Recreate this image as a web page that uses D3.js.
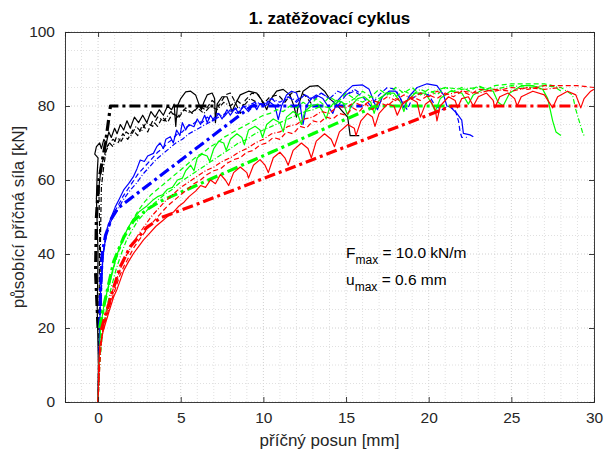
<!DOCTYPE html>
<html><head><meta charset="utf-8">
<script src="https://cdn.jsdelivr.net/npm/d3@7"></script>
<style>html,body{margin:0;padding:0;background:#fff;}svg{display:block;font-family:"Liberation Sans",Arial,Helvetica,sans-serif;}</style>
</head><body>
<svg id="c" width="604" height="453"></svg>
<script>
// ---------- data (x = příčný posun [mm], y = síla [kN]) ----------
const xTicks = [0,5,10,15,20,25,30];
const yTicks = [0,20,40,60,80,100];
const titleText = "1. zatěžovací cyklus";
const xLabel = "příčný posun [mm]";
const yLabel = "působící příčná síla [kN]";

const blackSolid = [[0,0],[0.02,10],[-0.05,25],[0,40],[-0.1,55],[-0.05,62],[0,66],[-0.2,67],[-0.1,69],[0.1,70],[0.2,68.5],[0.35,71],[0.5,70],[0.65,73],[0.8,71.5],[1.0,74],[1.15,72.5],[1.35,75],[1.55,73.5],[1.75,76],[1.95,74],[2.2,77],[2.45,75.5],[2.7,77.5],[2.95,75.5],[3.2,78.5],[3.45,77],[3.7,79],[3.95,77.5],[4.2,80],[4.45,79],[4.6,80.5],[4.7,74.5],[4.8,80],[5.0,82],[5.3,83.8],[5.6,84],[5.9,83],[6.1,80.5],[6.25,79],[6.4,81],[6.6,83],[6.9,83.5],[7.05,82],[7.1,75.5],[7.2,80.5],[7.5,82.5],[7.8,82.5],[8.0,80],[8.1,78.5],[8.3,80.5],[8.6,83],[9.1,84],[9.6,83.5],[10.0,81],[10.2,79],[10.4,81.5],[10.8,84],[11.2,84.5],[11.6,83],[11.85,80],[12.0,77],[12.1,80],[12.4,84],[12.8,85.3],[13.3,85.5],[13.7,84],[14.0,82],[14.4,80.5],[14.8,78.5],[15.1,77],[15.25,72],[15.8,72]];
const blackDash = [[0,0],[0.05,20],[0.1,45],[0.05,58],[0.2,64],[0.4,67],[0.6,69.5],[0.9,71],[1.2,70],[1.5,72.5],[1.8,71],[2.1,73.5],[2.4,72],[2.7,75],[3.0,73],[3.3,76],[3.6,74.5],[3.9,77],[4.2,75.5],[4.5,78],[4.9,77],[5.3,79.5],[5.7,78],[6.1,80],[6.5,79],[6.9,81.5],[7.3,80],[7.7,83],[8.0,83.5],[8.3,81],[8.6,78],[8.9,81.5],[9.3,83.5],[9.7,83],[10.0,80.5],[10.4,82.5],[10.9,83],[11.3,81],[11.7,83.5],[12.2,84],[12.6,82.5],[13.0,80]];
const blackDashDot = [[0,0],[0.1,25],[0.15,45],[0.2,58],[0.35,64],[0.5,68],[0.7,70],[0.9,69],[1.1,71.5],[1.4,70.5],[1.7,73],[2.0,72],[2.3,74.5],[2.6,73],[2.9,75.5],[3.3,74.5],[3.6,77],[4.0,76],[4.4,78.5],[4.8,77],[5.2,79],[5.6,78],[6.0,79.5],[6.4,78],[6.8,80],[7.2,79],[7.6,81],[8.0,80],[8.4,81.5],[8.8,80],[9.2,82],[9.6,81]];
const blackModel = [[0,20],[-0.15,35],[-0.1,50],[0.05,60],[0.25,65],[0.45,70],[0.75,80],[7.3,80]];

const blueSolid = [[0,0],[0.05,10],[0.1,20],[0.15,30],[0.3,40],[0.45,44],[0.55,47],[0.8,50],[1.05,52.8],[1.3,55],[1.55,57.3],[1.85,59],[2.15,61],[2.35,63],[2.55,65.4],[2.8,65],[3.0,66.5],[3.35,67.2],[3.55,69],[3.75,70],[3.95,68.5],[4.1,71],[4.37,71.7],[4.55,70],[4.75,73.5],[4.95,72],[5.1,75.5],[5.3,73.5],[5.5,75],[5.8,74.4],[6.0,76.5],[6.2,75],[6.45,77.5],[6.6,75.5],[6.8,77.5],[7.0,76],[7.3,78],[7.5,76.5],[7.8,79],[8.0,77.5],[8.3,79.5],[8.5,78],[8.8,80],[9.1,78.5],[9.4,80.5],[9.6,79],[9.8,80.7],[10.1,80],[10.4,81],[10.7,80],[10.9,76.3],[11.1,80],[11.4,83],[11.7,84],[12.0,83.5],[12.2,81],[12.4,75],[12.6,80],[12.9,82],[13.2,83],[13.6,82],[13.9,80],[14.2,78],[14.5,81.5],[14.9,83.5],[15.4,85.5],[16.0,85.7],[16.4,84.5],[16.7,81],[16.9,79],[17.2,82.5],[17.6,84],[18.0,84],[18.3,82],[18.5,79.5],[18.8,82.5],[19.3,85],[19.9,86],[20.5,85.5],[20.9,83],[21.1,80],[21.3,79.8],[21.7,78],[22.0,76.2],[22.1,72.6],[22.5,72.2],[22.7,71.7]];
const blueDash = [[0,0],[0.1,15],[0.2,30],[0.3,40],[0.5,45],[0.7,48],[0.95,51],[1.2,53],[1.5,55.5],[1.8,57.5],[2.1,59.5],[2.4,61.5],[2.7,63],[3.0,64.5],[3.3,66],[3.6,67.5],[3.9,68.5],[4.2,70],[4.5,71],[4.8,72.5],[5.1,73],[5.4,74.5],[5.7,75],[6.0,76],[6.3,75.5],[6.6,77],[6.9,76],[7.2,78],[7.6,77],[8.0,79],[8.4,78],[8.8,80],[9.2,79],[9.6,81],[10.0,80],[10.5,82],[11.0,80],[11.5,82.5],[12.0,81],[12.5,83],[13.0,81.5],[13.5,83.5],[14.0,82],[14.5,80],[15.0,83],[15.5,84],[16.0,82.5],[16.5,80],[17.0,83],[17.5,85],[18.0,84.5],[18.4,81],[18.7,79],[19.0,82],[19.5,83.5],[20.0,83],[20.4,80],[20.8,79],[21.2,80],[21.6,79],[21.8,76],[21.9,73],[22.0,71.5],[22.3,71.5]];
const blueDashDot = [[0,0],[0.1,20],[0.2,35],[0.4,43],[0.6,47],[0.9,50],[1.2,52],[1.5,54.5],[1.9,57],[2.3,59],[2.7,61.5],[3.1,63.5],[3.5,65.5],[3.9,67],[4.3,68.5],[4.7,70],[5.1,71],[5.5,72.5],[5.9,73.5],[6.3,74.5],[6.7,75.5],[7.1,76.5],[7.5,77.5],[8.0,78.5],[8.5,79.5],[9.0,80],[9.5,81],[10,80.5],[10.5,82],[11,81],[11.5,82.5],[12,81.5],[12.5,83],[13,82],[13.5,83.5],[14,82],[14.5,84],[15,83],[15.5,84.5],[16,83]];
const blueModel = [[0.1,20],[0.15,30],[0.25,40],[0.45,45],[0.8,49.5],[1.2,52.4],[9.3,80],[16,80]];

const greenSolid = [[0,0],[0.05,10],[0.15,20],[0.35,26],[0.6,31],[0.9,36],[1.2,40.5],[1.5,44],[1.8,47],[2.15,49.5],[2.5,51.5],[2.95,53],[3.3,54.5],[3.6,55.5],[3.9,56],[4.2,57.5],[4.5,58],[4.8,60],[5.1,60.5],[5.3,62.5],[5.6,64],[5.8,62.5],[6.0,66],[6.3,67],[6.6,66.5],[6.75,65],[7.0,68.5],[7.3,70.5],[7.6,70],[7.75,68],[8.0,71],[8.4,72.5],[8.7,71.5],[8.85,69.5],[9.1,73.5],[9.5,74.5],[9.8,73.5],[9.95,71.5],[10.2,75],[10.6,76.5],[11.0,75.5],[11.2,73],[11.4,77],[11.8,78.5],[12.1,77.5],[12.3,75],[12.5,78.5],[12.9,80],[13.3,80.5],[13.6,78.5],[13.8,76.5],[14.0,79.5],[14.4,81.5],[14.8,81],[15.1,77.5],[15.3,80],[15.7,82],[16.1,82.5],[16.5,81],[16.7,78],[16.9,81],[17.4,83.5],[17.9,83.5],[18.3,81],[18.5,78.5],[18.7,81.5],[19.2,83.5],[19.8,83.5],[20.2,80.5],[20.4,78.5],[20.7,82],[21.3,84],[22.0,83.5],[22.4,80.5],[22.7,83],[23.3,84.5],[23.9,84],[24.2,81],[24.5,80],[24.9,83.5],[25.6,85.5],[26.3,85.5],[26.9,84.5],[27.2,82],[27.35,79],[27.5,76],[27.7,73],[28.0,72]];
const greenDash = [[0,0],[0.1,12],[0.25,22],[0.45,28],[0.75,33],[1.05,38],[1.35,42],[1.65,45.5],[2.0,48.5],[2.4,51.5],[2.8,54],[3.2,56],[3.6,57.5],[4.0,59],[4.4,60.5],[4.8,62],[5.2,63.5],[5.6,65],[6.0,66.5],[6.4,67.5],[6.8,69],[7.2,70],[7.6,71.5],[8.0,72.5],[8.4,73.5],[8.8,74.5],[9.2,75.5],[9.6,76.5],[10.0,77.5],[10.4,78],[10.8,79],[11.2,78.5],[11.6,80],[12.0,79.5],[12.4,81],[12.8,80],[13.2,82],[13.6,80.5],[14.0,82.5],[14.5,81],[15.0,83.5],[15.5,82],[16.0,84],[16.5,82.5],[17.0,84.5],[17.5,83],[18.0,85],[18.5,83.5],[19.0,85],[19.5,83],[20.0,84.5],[20.5,83],[21.0,85],[21.5,84],[22,85],[22.5,84],[23,85.5],[23.5,84.5],[24,85.5],[25,86],[26,86],[27,86],[27.5,85.5],[28.0,84]];
const greenDashDot = [[0,0],[0.1,10],[0.25,18],[0.5,25],[0.8,31],[1.1,36],[1.4,40],[1.7,43.5],[2.0,46],[2.4,49],[2.8,51],[3.2,53],[3.6,54.5],[4.0,56],[4.5,57.5],[5.0,59.5],[5.5,61],[6.0,62.5],[6.5,64],[7.0,65.5],[7.5,67],[8.0,68.5],[8.5,70],[9.0,71],[9.5,72.5],[10.0,73.5],[10.5,74.5],[11,75.5],[11.5,76.5],[12,77.5],[12.5,78.5],[13,79],[13.5,80],[14,79.5],[14.5,81],[15,80.5],[15.5,82],[16,81],[16.5,82.5],[17,82],[17.5,83.5],[18,82.5],[18.5,84],[19,83],[19.5,84.5],[20,83.5],[21,85],[22,84.5],[23,85],[24,84.5],[25,85.5],[26,85],[27,85.5],[28,85],[28.7,83],[28.9,79],[29.1,76],[29.3,73],[29.4,72]];
const greenModel = [[0.1,20],[0.25,24],[0.55,30],[0.95,38],[1.55,44.5],[2.15,49],[2.95,52],[3.8,54.3],[16.8,80],[21.7,80]];

const redSolid = [[0,0],[0.02,5],[0.04,10],[0.1,15],[0.3,19],[0.5,22],[0.7,25],[0.95,28.5],[1.15,30.5],[1.35,33],[1.55,35.5],[1.85,38],[2.15,40.2],[2.45,42],[2.75,43.8],[3.1,45.5],[3.5,47.5],[3.9,49],[4.3,50.5],[4.6,51.5],[4.9,53],[5.2,54],[5.5,55.5],[5.9,57],[6.2,58.5],[6.5,58],[6.8,60],[7.1,59],[7.4,61.5],[7.7,60],[7.9,58.5],[8.2,62],[8.6,63.5],[9.0,62],[9.1,60.5],[9.4,64],[9.8,65.5],[10.1,64],[10.3,62],[10.6,66],[11.0,67.5],[11.3,66],[11.5,64],[11.8,68],[12.3,70],[12.7,68.5],[12.9,66],[13.2,70.5],[13.7,72.5],[14.1,71],[14.3,69],[14.6,73],[15.1,75],[15.5,74],[15.6,72],[15.9,76],[16.3,78],[16.6,77],[16.75,74.5],[17.0,78],[17.5,80.5],[17.9,80],[18.1,77.5],[18.4,80.5],[18.9,82],[19.3,81],[19.5,77],[19.8,80.5],[20.1,81.5],[20.4,79],[20.5,76],[20.7,80],[21.2,82.5],[21.6,81.5],[21.75,79.5],[22.0,82],[22.4,82.5],[22.7,80],[23.0,82.5],[23.5,83.5],[23.9,81.5],[24.0,79.5],[24.3,82.5],[24.8,83.5],[25.2,82],[25.35,80],[25.6,82.5],[26.3,84],[27.0,83],[27.5,79.5],[27.8,82.5],[28.4,84],[28.9,83],[29.2,79.5],[29.4,82],[29.8,84],[30,84.5]];
const redDash = [[0,0],[0.1,12],[0.25,18],[0.45,22],[0.7,26],[1.0,30],[1.3,34],[1.6,37],[1.9,39.5],[2.2,42],[2.6,44.5],[3.0,47],[3.4,49],[3.8,51],[4.2,53],[4.6,54.5],[5.0,56],[5.4,57.5],[5.8,59],[6.2,60],[6.6,61.5],[7.0,62.5],[7.4,63],[7.8,64.5],[8.2,65.5],[8.6,66],[9.0,67.5],[9.4,68],[9.8,69.5],[10.2,70],[10.6,71.5],[11.0,71],[11.4,73],[11.8,72.5],[12.2,74.5],[12.6,74],[13.0,76],[13.4,75.5],[13.8,77],[14.2,76.5],[14.6,78],[15.0,77.5],[15.4,79.5],[15.8,78.5],[16.2,80.5],[16.6,79],[17.0,81],[17.5,80],[18.0,82],[18.5,81],[19.0,82.5],[19.5,81.5],[20.0,83],[20.5,82],[21.0,83.5],[21.5,82.5],[22.0,84],[22.5,83],[23,84.5],[24,84],[25,85],[26,84.5],[27,85.5],[28,85.5],[29,85.5],[30,85]];
const redDashDot = [[0,0],[0.15,14],[0.3,20],[0.5,24],[0.8,29],[1.1,33],[1.4,36.5],[1.7,39.5],[2.0,42],[2.4,45],[2.8,47.5],[3.2,50],[3.6,52],[4.0,54],[4.5,56],[5.0,58],[5.5,59.5],[6.0,61],[6.5,62.5],[7.0,63.5],[7.5,65],[8.0,66],[8.5,67.5],[9.0,68.5],[9.5,70],[10.0,71],[10.5,72.5],[11.0,73],[11.5,74.5],[12.0,75],[12.5,76.5],[13.0,77],[13.5,78.5],[14.0,78],[14.5,80],[15.0,79.5],[15.5,81],[16.0,80],[16.5,81.5],[17.0,81],[17.5,82.5],[18.0,81.5],[18.5,83],[19.0,82],[19.5,83.5],[20.0,82.5],[20.5,84],[21.0,83],[22,84],[23,83.5],[24,84.5],[25,84],[26,85],[27,84.5],[28,85]];
const redModel = [[0.2,19.5],[0.35,22],[0.55,25],[0.95,31],[1.35,36.6],[1.95,42],[2.95,47.2],[3.8,49.8],[4.8,51.5],[6.0,53.5],[21.4,80],[29,80]];

const annotLine1 = {main:"F", sub:"max", rest:" = 10.0 kN/m", x:15, y:39};
const annotLine2 = {main:"u", sub:"max", rest:" = 0.6 mm", x:15, y:31.6};

// ---------- layout ----------
const svg = d3.select("#c");
const L=65, R=594, T=32, B=402;
const x = d3.scaleLinear().domain([-2,30]).range([L,R]);
const y = d3.scaleLinear().domain([0,100]).range([B,T]);
const axisColor="#262626";

// grid (major + minor, dotted)
const gx = svg.append("g");
d3.range(-2,31,1).forEach(v=>{
  gx.append("line").attr("x1",x(v)).attr("x2",x(v)).attr("y1",T).attr("y2",B)
    .attr("stroke",xTicks.includes(v)?"#c4c4c4":"#d8d8d8").attr("stroke-width",0.8).attr("stroke-dasharray","1,2");
});
d3.range(0,101,5).forEach(v=>{
  gx.append("line").attr("x1",L).attr("x2",R).attr("y1",y(v)).attr("y2",y(v))
    .attr("stroke",yTicks.includes(v)?"#c4c4c4":"#d8d8d8").attr("stroke-width",0.8).attr("stroke-dasharray","1,2");
});

// data lines
const plot = svg.append("g");
const clipId="clp";
svg.append("clipPath").attr("id",clipId).append("rect").attr("x",L).attr("y",T).attr("width",R-L).attr("height",B-T);
plot.attr("clip-path","url(#"+clipId+")");
const line = d3.line().x(d=>x(d[0])).y(d=>y(d[1])).curve(d3.curveLinear);
const thin=1.2, thick=3.2;
const series = [
  [blackSolid,"#000000",thin,null],[blackDash,"#000000",thin,"5,3"],[blackDashDot,"#000000",thin,"5,2,1,2"],[blackModel,"#000000",thick,"11,4,3,4"],
  [blueSolid,"#0000ff",thin,null],[blueDash,"#0000ff",thin,"5,3"],[blueDashDot,"#0000ff",thin,"5,2,1,2"],[blueModel,"#0000ff",thick,"11,4,3,4"],
  [greenSolid,"#00ff00",thin,null],[greenDash,"#00ff00",thin,"5,3"],[greenDashDot,"#00ff00",thin,"5,2,1,2"],[greenModel,"#00ff00",thick,"11,4,3,4"],
  [redSolid,"#ff0000",thin,null],[redDash,"#ff0000",thin,"5,3"],[redDashDot,"#ff0000",thin,"5,2,1,2"],[redModel,"#ff0000",thick,"11,4,3,4"]
];
series.forEach(([d,c,w,da])=>{
  const p=plot.append("path").datum(d).attr("d",line).attr("fill","none").attr("stroke",c)
    .attr("stroke-width",w).attr("stroke-linejoin","round");
  if(da) p.attr("stroke-dasharray",da);
});

// axes box + ticks
const ax = svg.append("g");
const axB = d3.axisBottom(x).tickValues(xTicks).tickSize(-5).tickPadding(10).tickFormat(d3.format("d"));
const axT = d3.axisTop(x).tickValues(xTicks).tickSize(-5).tickFormat("");
const axL = d3.axisLeft(y).tickValues(yTicks).tickSize(-5).tickPadding(10).tickFormat(d3.format("d"));
const axR = d3.axisRight(y).tickValues(yTicks).tickSize(-5).tickFormat("");
[[axB,`translate(0,${B})`],[axT,`translate(0,${T})`],[axL,`translate(${L},0)`],[axR,`translate(${R},0)`]].forEach(([a,t])=>{
  const g=ax.append("g").attr("transform",t).call(a);
  g.select(".domain").attr("stroke",axisColor).attr("stroke-width",0.9);
  g.selectAll(".tick line").attr("stroke",axisColor).attr("stroke-width",0.9);
  g.selectAll(".tick text").attr("fill",axisColor).style("font-size","15.5px").style("font-family","'Liberation Sans',Arial,sans-serif");
});

// titles
svg.append("text").attr("x",(L+R)/2).attr("y",24).attr("text-anchor","middle")
  .style("font-size","17px").style("font-weight","bold").attr("fill","#000").text(titleText);
svg.append("text").attr("x",(L+R)/2).attr("y",446).attr("text-anchor","middle")
  .style("font-size","17px").attr("fill",axisColor).text(xLabel);
svg.append("text").attr("transform",`translate(24,${(T+B)/2}) rotate(-90)`).attr("text-anchor","middle")
  .style("font-size","17px").attr("fill",axisColor).text(yLabel);

// annotation
[annotLine1,annotLine2].forEach(a=>{
  const t=svg.append("text").attr("x",x(a.x)).attr("y",y(a.y)).style("font-size","15.5px").attr("fill","#000");
  t.append("tspan").text(a.main);
  t.append("tspan").attr("dy",6).style("font-size","12px").text(a.sub);
  t.append("tspan").attr("dy",-6).text(a.rest);
});
</script>
</body></html>
